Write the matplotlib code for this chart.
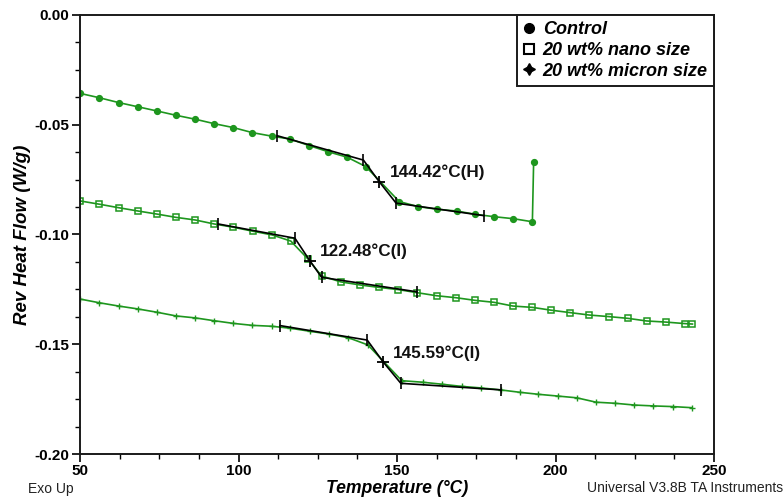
import matplotlib
matplotlib.use('Agg')
import matplotlib.pyplot as plt
from matplotlib.lines import Line2D
from matplotlib.ticker import MultipleLocator, FormatStrFormatter

plt.rcParams['font.family'] = ['Liberation Sans', 'DejaVu Sans']

# Control (filled circles)
control_t = [50.0, 56.1, 62.2, 68.2, 74.2, 80.3, 86.4, 92.3, 98.4, 104.4, 110.5, 116.2,
             122.3, 128.3, 134.3, 140.2, 150.7, 156.7, 162.7, 168.8, 174.7, 180.7, 186.7,
             192.7, 193.1]
control_hf = [-0.0357, -0.0377, -0.0399, -0.0418, -0.0437, -0.0457, -0.0475, -0.0495,
              -0.0513, -0.0536, -0.0552, -0.0565, -0.0595, -0.0623, -0.0648, -0.0691,
              -0.0850, -0.0873, -0.0885, -0.0893, -0.0908, -0.0919, -0.0928, -0.0942,
              -0.0668]

# 20 wt% nano size (open squares)
nano_t = [50.0, 56.1, 62.2, 68.3, 74.3, 80.3, 86.4, 92.3, 98.4, 104.5, 110.6, 116.5,
          122.0, 126.2, 132.3, 138.4, 144.3, 150.4, 156.3, 162.5, 168.6, 174.6, 180.6,
          186.6, 192.7, 198.7, 204.7, 210.7, 216.8, 222.8, 228.8, 234.8, 240.9, 243.2]
nano_hf = [-0.0847, -0.0862, -0.0878, -0.0893, -0.0907, -0.0922, -0.0934, -0.0952,
           -0.0967, -0.0985, -0.1002, -0.1030, -0.1113, -0.1189, -0.1216, -0.1230,
           -0.1241, -0.1251, -0.1265, -0.1279, -0.1288, -0.1300, -0.1309, -0.1326,
           -0.1332, -0.1345, -0.1356, -0.1367, -0.1374, -0.1382, -0.1394, -0.1399,
           -0.1406, -0.1408]

# 20 wt% micron size (plus)
micron_t = [50.0, 56.1, 62.2, 68.2, 74.2, 80.3, 86.4, 92.4, 98.4, 104.4, 110.5, 116.3,
            122.6, 128.6, 134.6, 140.8, 151.5, 158.1, 164.1, 170.4, 176.5, 182.7, 188.8,
            194.6, 200.7, 206.7, 212.8, 218.9, 224.9, 230.9, 237.0, 243.0]
micron_hf = [-0.1294, -0.1311, -0.1326, -0.1339, -0.1354, -0.1371, -0.1380, -0.1393,
             -0.1405, -0.1414, -0.1418, -0.1427, -0.1441, -0.1454, -0.1470, -0.1503,
             -0.1666, -0.1673, -0.1682, -0.1692, -0.1699, -0.1708, -0.1719, -0.1728,
             -0.1736, -0.1744, -0.1764, -0.1769, -0.1777, -0.1781, -0.1784, -0.1789]

# glass transition analysis lines: onset, tangent end, midpoint, step end, tangent end
control_tg_t = [112.2, 139.4, 144.42, 149.7, 177.4]
control_tg_hf = [-0.0550, -0.0661, -0.0760, -0.0857, -0.0914]
nano_tg_t = [93.6, 117.8, 122.48, 126.2, 156.2]
nano_tg_hf = [-0.0952, -0.1017, -0.1119, -0.1195, -0.1261]
micron_tg_t = [113.1, 140.6, 145.59, 151.2, 182.9]
micron_tg_hf = [-0.1415, -0.1481, -0.1580, -0.1678, -0.1708]

tg_labels = ['144.42°C(H)', '122.48°C(I)', '145.59°C(I)']
tg_label_pos = [(147.8, -0.0714), (125.7, -0.1078), (148.8, -0.1539)]

legend_labels = ['Control', '20 wt% nano size', '20 wt% micron size']

green = '#1e961e'

fig = plt.figure(figsize=(7.83, 5.0), dpi=100)
ax = fig.add_axes([0.1022, 0.092, 0.8097, 0.878])

ax.plot(control_t, control_hf, color=green, lw=1.2, marker='o', ms=4.2,
        mfc=green, mec=green)
ax.plot(nano_t, nano_hf, color=green, lw=1.2, marker='s', ms=5.0,
        mfc='none', mec=green, mew=1.1)
ax.plot(micron_t, micron_hf, color=green, lw=1.2, marker='+', ms=5.0,
        mec=green, mew=1.0)

for tt, hh in [(control_tg_t, control_tg_hf), (nano_tg_t, nano_tg_hf),
               (micron_tg_t, micron_tg_hf)]:
    ax.plot(tt, hh, color='black', lw=1.2)
    ax.plot([tt[i] for i in (0, 1, 3, 4)], [hh[i] for i in (0, 1, 3, 4)],
            ls='none', marker='|', ms=8, mew=1.2, color='black')
    ax.plot(tt[2], hh[2], ls='none', marker='+', ms=9, mew=1.3, color='black')

for lab, (lx, ly) in zip(tg_labels, tg_label_pos):
    ax.text(lx, ly, lab, fontsize=12.3, fontweight='bold', va='center', ha='left',
            color='#111111')

ax.set_xlim(50, 250)
ax.set_ylim(-0.20, 0.0)
ax.xaxis.set_major_locator(MultipleLocator(50))
ax.xaxis.set_minor_locator(MultipleLocator(12.5))
ax.yaxis.set_major_locator(MultipleLocator(0.05))
ax.yaxis.set_minor_locator(MultipleLocator(0.0125))
ax.yaxis.set_major_formatter(FormatStrFormatter('%.2f'))
ax.tick_params(which='major', direction='out', length=6, width=1.2, labelsize=11,
               pad=1.5)
ax.tick_params(which='minor', direction='out', length=3.5, width=1.0)
for lbl in ax.get_xticklabels() + ax.get_yticklabels():
    lbl.set_fontweight('bold')
for sp in ax.spines.values():
    sp.set_linewidth(1.4)
    sp.set_color('#1a1a1a')

ax.set_xlabel('Temperature (°C)', fontsize=12.7, fontweight='bold', style='italic',
              labelpad=1)
ax.set_ylabel('Rev Heat Flow (W/g)', fontsize=13.5, fontweight='bold', style='italic',
              labelpad=3)

handles = [Line2D([], [], ls='none', marker='o', ms=7, color='black'),
           Line2D([], [], ls='none', marker='s', ms=7.5, mfc='none', mec='black', mew=1.5),
           Line2D([], [], ls='none', marker=(4, 1, 0), ms=8.5, color='black')]
leg = ax.legend(handles, legend_labels, loc='upper right', fancybox=False,
                framealpha=1, edgecolor='#1a1a1a', borderaxespad=0,
                handlelength=0.6, handletextpad=0.45, borderpad=0.35,
                labelspacing=0.2, prop={'weight': 'bold', 'style': 'italic', 'size': 13})
leg.get_frame().set_linewidth(1.4)

fig.text(0.036, 0.022, 'Exo Up', fontsize=10, va='center', ha='left', color='#222222')
fig.text(1.0, 0.024, 'Universal V3.8B TA Instruments', fontsize=10, va='center',
         ha='right', color='#222222')

fig.savefig('out.png', dpi=100)
